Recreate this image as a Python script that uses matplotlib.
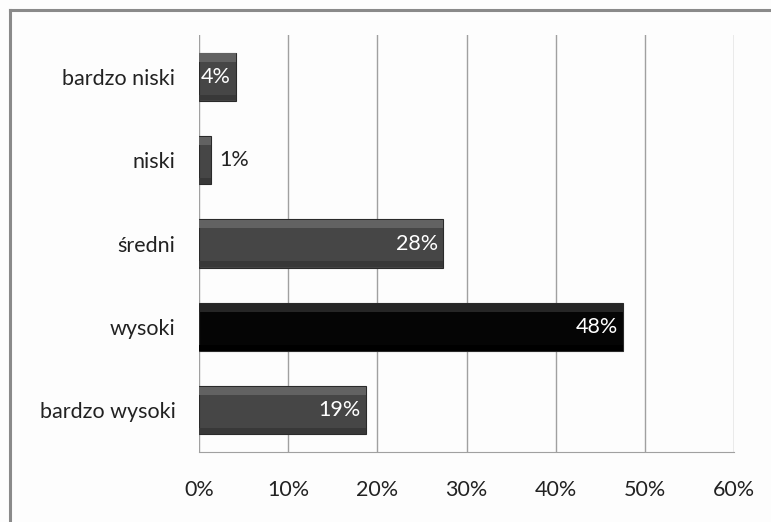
import numpy as np
import matplotlib.pyplot as plt
from matplotlib.lines import Line2D

# dane
kategorie = ['bardzo wysoki', 'wysoki', 'średni', 'niski', 'bardzo niski']
wartosci = [18.7, 47.6, 27.4, 1.3, 4.1]
etykiety = ['19%', '48%', '28%', '1%', '4%']
xticks = [0, 10, 20, 30, 40, 50, 60]

plt.rcParams['font.family'] = ['Lato', 'DejaVu Sans']

fig = plt.figure(figsize=(7.71, 5.22), dpi=100)
fig.patch.set_facecolor('#fdfdfd')

# ramka wykresu (obcieta z prawej i od dolu)
fig.add_artist(Line2D([10/771, 1], [1-10/522, 1-10/522], color='#8a8a8a', lw=2.2))
fig.add_artist(Line2D([10/771, 10/771], [0, 1-10/522], color='#8a8a8a', lw=2.2))

ax = fig.add_axes([199/771, 1-452/522, 535/771, 417/522])
ax.set_facecolor('#fdfdfd')

y = np.arange(len(kategorie))
h = 0.58
kolory = ['#464646', '#050505', '#464646', '#464646', '#464646']
gorne = ['#626262', '#262626', '#626262', '#626262', '#626262']
dolne = ['#383838', '#000000', '#383838', '#383838', '#383838']

ax.barh(y, wartosci, height=h, color=kolory, edgecolor='#2a2a2a', lw=0.8, zorder=3)
# efekt faz (jasniejszy pasek u gory, ciemniejszy u dolu)
ax.barh(y + h/2 - 0.06, wartosci, height=0.1, color=gorne, lw=0, zorder=4)
ax.barh(y - h/2 + 0.04, wartosci, height=0.07, color=dolne, lw=0, zorder=4)

for i, (v, t) in enumerate(zip(wartosci, etykiety)):
    if v > 3:
        ax.annotate(t, (v, i), xytext=(-5, 0), textcoords='offset pixels',
                    ha='right', va='center', color='white', fontsize=15.5,
                    zorder=5)
    else:
        ax.annotate(t, (v, i), xytext=(9, 0), textcoords='offset pixels',
                    ha='left', va='center', color='#222222', fontsize=15.5, zorder=5)

ax.set_xlim(0, 60)
ax.set_ylim(-0.5, len(kategorie) - 0.5)
ax.set_xticks(xticks)
ax.set_xticklabels([f'{t}%' for t in xticks])
ax.set_yticks(y)
ax.set_yticklabels(kategorie)
ax.tick_params(axis='y', length=0, pad=17, labelsize=15.5, labelcolor='#222222')
ax.tick_params(axis='x', length=0, pad=20, labelsize=15.5, labelcolor='#222222')

ax.grid(axis='x', color='#a0a0a0', lw=1.0, zorder=0)
for s in ['top', 'right', 'left']:
    ax.spines[s].set_visible(False)
ax.spines['bottom'].set_color('#a0a0a0')

plt.savefig('out.png', dpi=100, facecolor=fig.get_facecolor())
